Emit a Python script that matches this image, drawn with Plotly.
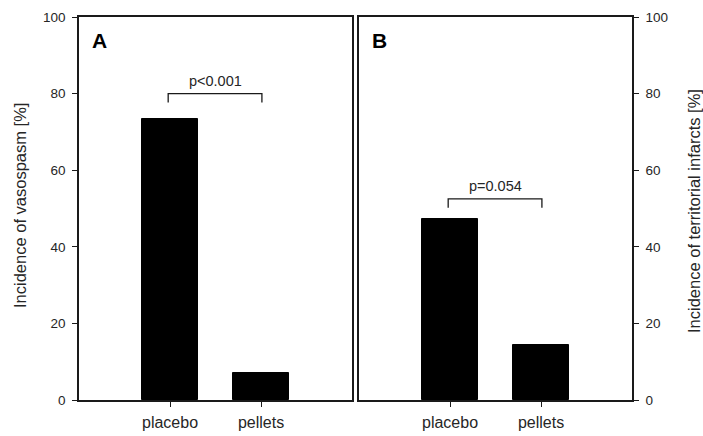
import plotly.graph_objects as go

categories = ["placebo", "pellets"]
vasospasm = [73.4, 7.1]
infarcts = [47.3, 14.3]
y_ticks = [0, 20, 40, 60, 80, 100]
p_labels = ["p<0.001", "p=0.054"]
bracket_top = [80.0, 52.5]
bracket_leg = 2.3
panel_labels = ["A", "B"]
y_titles = ["Incidence of vasospasm [%]", "Incidence of territorial infarcts [%]"]

FONT = "Liberation Sans, Arial, sans-serif"
LC = "#1a1a1a"
TC = "#262626"
W, H = 703, 436


def px_x(v):
    return v / W


def px_y(v):
    return 1 - v / H


fig = go.Figure()
xpos = list(range(len(categories)))

fig.add_trace(go.Bar(x=xpos, y=vasospasm, width=0.62, marker=dict(color="black", line=dict(color="black", width=1)),
                     xaxis="x", yaxis="y", showlegend=False))
fig.add_trace(go.Bar(x=xpos, y=infarcts, width=0.62, marker=dict(color="black", line=dict(color="black", width=1)),
                     xaxis="x2", yaxis="y2", showlegend=False))

for i, (xa, ya) in enumerate([("x", "y"), ("x2", "y2")]):
    top = bracket_top[i]
    fig.add_trace(go.Scatter(x=[xpos[0] - 0.02, xpos[0] - 0.02, xpos[1] + 0.01, xpos[1] + 0.01],
                             y=[top - bracket_leg, top, top, top - bracket_leg],
                             mode="lines", line=dict(color=LC, width=1.3),
                             xaxis=xa, yaxis=ya, showlegend=False, hoverinfo="skip"))
    fig.add_annotation(x=(xpos[0] + xpos[1]) / 2, y=top, xref=xa, yref=ya, text=p_labels[i],
                       showarrow=False, yanchor="bottom", yshift=3,
                       font=dict(family=FONT, size=14.5, color=TC))
    fig.add_annotation(x=-0.77, y=93.8, xref=xa, yref=ya, text="<b>%s</b>" % panel_labels[i],
                       showarrow=False, xanchor="center", yanchor="middle",
                       font=dict(family=FONT, size=21, color="black"))

fig.add_annotation(x=px_x(20), y=px_y(206), xref="paper", yref="paper", text=y_titles[0], textangle=-90,
                   showarrow=False, xanchor="center", yanchor="middle",
                   font=dict(family=FONT, size=16.5, color=TC))
fig.add_annotation(x=px_x(694), y=px_y(211), xref="paper", yref="paper", text=y_titles[1], textangle=-90,
                   showarrow=False, xanchor="center", yanchor="middle",
                   font=dict(family=FONT, size=16.5, color=TC))

axis_common = dict(showline=True, linecolor=LC, linewidth=1.5, mirror=True, ticks="outside",
                   tickcolor=LC, ticklen=5, tickwidth=1.3, showgrid=False, zeroline=False,
                   automargin=False,
                   tickfont=dict(family=FONT, size=13.5, color=TC))

xcommon = dict(axis_common, range=[-1, 2], tickvals=xpos, ticktext=categories,
               tickfont=dict(family=FONT, size=16, color=TC), ticklabelstandoff=2)
ycommon = dict(axis_common, range=[0, 100], tickvals=y_ticks, ticklabelstandoff=4)

ydom = [px_y(400), px_y(17)]

fig.update_layout(
    width=W, height=H,
    margin=dict(l=0, r=0, t=0, b=0, autoexpand=False),
    paper_bgcolor="white", plot_bgcolor="white",
    xaxis=dict(xcommon, domain=[px_x(79), px_x(352)], anchor="y"),
    xaxis2=dict(xcommon, domain=[px_x(359), px_x(632)], anchor="y2"),
    yaxis=dict(ycommon, domain=ydom, anchor="x"),
    yaxis2=dict(ycommon, domain=ydom, anchor="x2", side="right"),
    bargap=0,
)

fig.write_html("out.html", config={"displayModeBar": False},
               post_script="document.body.style.margin='0px';document.body.style.overflow='hidden';")
